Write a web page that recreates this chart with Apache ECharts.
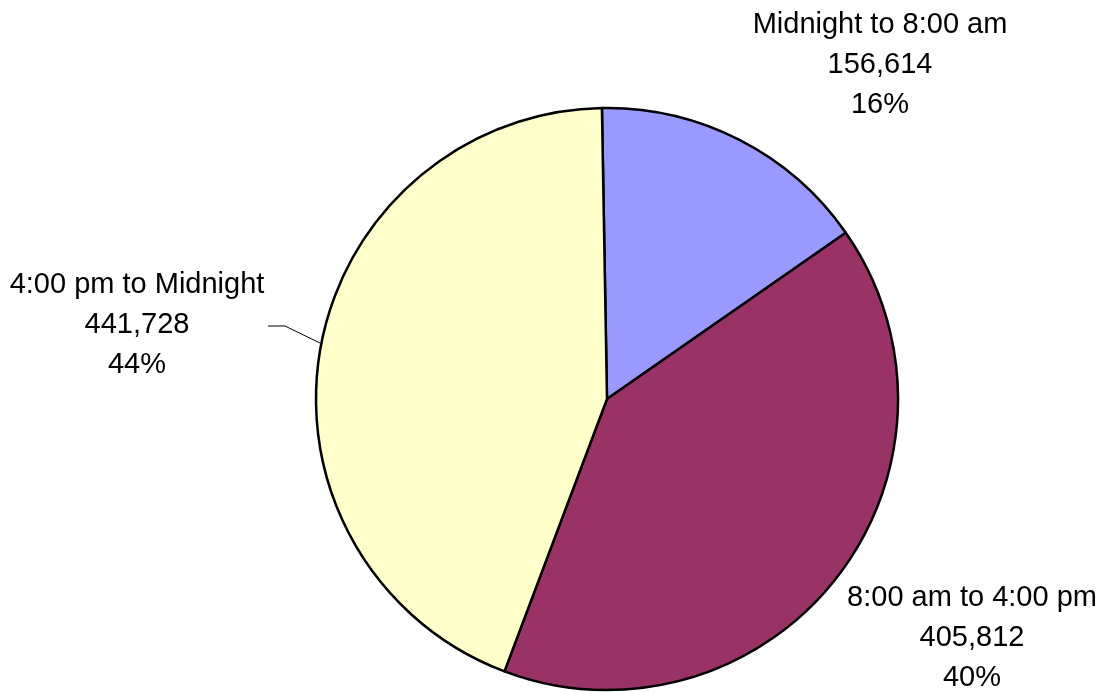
<!DOCTYPE html>
<html>
<head>
<meta charset="utf-8">
<script src="https://cdn.jsdelivr.net/npm/echarts@6/dist/echarts.min.js"></script>
<style>
  html, body { margin: 0; padding: 0; background: #fff; }
  #chart { width: 1107px; height: 692px; }
</style>
</head>
<body>
<div id="chart"></div>
<script>
// 时段与数量
var categories = ["Midnight to 8:00 am", "8:00 am to 4:00 pm", "4:00 pm to Midnight"];
var values = [156614, 405812, 441728];
var colorList = ["#9999ff", "#993366", "#ffffcc"];

// 标签位置（布局用）
var labelPos = [[880, 65], [972, 638], [137, 325]];

var myChart = echarts.init(document.getElementById("chart"));
window.onresize = myChart.resize;

var option = {
  animation: false,
  backgroundColor: "#ffffff",
  series: [
    {
      type: "pie",
      center: [607, 399],
      radius: 291,
      startAngle: 91,
      clockwise: true,
      data: categories.map(function (name, i) {
        return {
          name: name,
          value: values[i],
          labelLine: { show: i === 2 },
        };
      }),
      itemStyle: {
        color: function (params) {
          return colorList[params.dataIndex];
        },
        borderColor: "#000000",
        borderWidth: 2.5,
      },
      label: {
        show: true,
        position: "outside",
        color: "#000000",
        fontFamily: "Liberation Sans, Arial, sans-serif",
        fontSize: 29,
        lineHeight: 40,
        align: "center",
        overflow: "none",
        width: 300,
        formatter: function (params) {
          return (
            params.name +
            "\n" +
            params.value.toLocaleString("en-US") +
            "\n" +
            Math.round(params.percent) +
            "%"
          );
        },
      },
      labelLine: {
        lineStyle: { color: "#000000", width: 1 },
      },
      labelLayout: function (params) {
        var p = labelPos[params.dataIndex];
        var res = { x: p[0], y: p[1], align: "center", verticalAlign: "middle" };
        if (params.dataIndex === 2) {
          res.labelLinePoints = [[320, 343], [285, 326], [268, 326]];
        }
        return res;
      },
      emphasis: { disabled: true },
    },
  ],
};
myChart.setOption(option);
</script>
</body>
</html>
